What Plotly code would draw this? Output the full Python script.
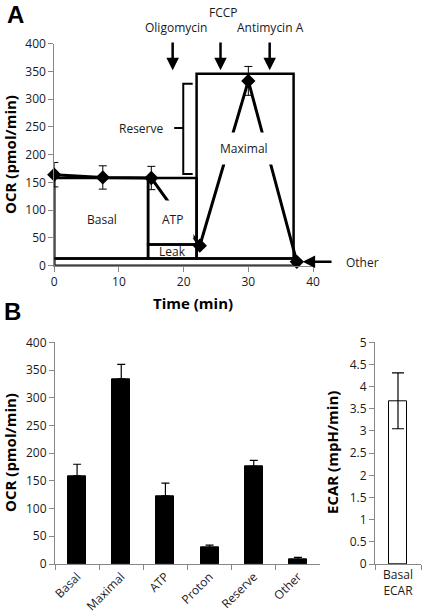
import plotly.graph_objects as go

# ---------------- Data ----------------
# Panel A: OCR time course
time_min = [0, 7.5, 15, 22.5, 30, 37.5]
ocr_time = [164, 159, 158, 36, 333, 7]
ocr_time_err = [22, 21, 21, 2, 26, 2]

# Schematic levels (pmol/min) and injection times (min)
basal_level = 158
leak_level = 38
other_level = 13
maximal_level = 346
t_start = 0
t_oligo = 14.5
t_fccp = 22
t_end = 37
reserve_top = 328
reserve_mid = 248
reserve_bottom = 165

drug_names = ["Oligomycin", "FCCP", "Antimycin A"]
drug_arrow_times = [18.3, 25.7, 33.3]

# Panel B: parameters
param_names = ["Basal", "Maximal", "ATP", "Proton", "Reserve", "Other"]
param_values = [159, 334, 123, 29.5, 176, 8]
param_errors = [21, 26, 23, 4.5, 11, 4]

ecar_names = ["Basal ECAR"]
ecar_values = [3.68]
ecar_errors = [0.63]

# ---------------- Styling ----------------
FONT = "Open Sans"
TICK = dict(family=FONT, size=12, color="#1a1a1a")
TITLE = dict(family=FONT, size=15, color="black")
AXC = "#878787"
LW = 2.5

fig = go.Figure()

# Panel A trace
fig.add_trace(go.Scatter(
    x=time_min, y=ocr_time, mode="lines+markers",
    line=dict(color="black", width=3),
    marker=dict(symbol="diamond", size=11, color="black"),
    error_y=dict(type="data", array=ocr_time_err, color="black", thickness=1, width=4),
    xaxis="x", yaxis="y", cliponaxis=False, showlegend=False,
))

# Panel B bars
fig.add_trace(go.Bar(
    x=param_names, y=param_values, width=0.41,
    marker=dict(color="black", line=dict(color="black", width=1)),
    error_y=dict(type="data", array=param_errors, arrayminus=[0]*len(param_errors),
                 symmetric=False, color="black", thickness=1.2, width=4),
    xaxis="x2", yaxis="y2", showlegend=False,
))
fig.add_trace(go.Bar(
    x=ecar_names, y=ecar_values, width=0.4,
    marker=dict(color="white", line=dict(color="black", width=1)),
    error_y=dict(type="data", array=ecar_errors, color="black", thickness=1.2, width=6),
    xaxis="x3", yaxis="y3", showlegend=False,
))

# Schematic boxes in panel A
def rect(x0, x1, y0, y1):
    return dict(type="rect", xref="x", yref="y", x0=x0, x1=x1, y0=y0, y1=y1,
                line=dict(color="black", width=LW), fillcolor="rgba(0,0,0,0)", layer="above")

shapes = [
    rect(t_start, t_oligo, other_level, basal_level),
    rect(t_oligo, t_fccp, leak_level, basal_level),
    rect(t_oligo, t_fccp, other_level, leak_level),
    rect(t_fccp, t_end, other_level, maximal_level),
    rect(t_start, t_end, 0, other_level),
]
br_x = t_fccp - 2.06
shapes.append(dict(
    type="path", xref="x", yref="y",
    path=(f"M {t_fccp-0.6},{reserve_top} L {br_x},{reserve_top} L {br_x},{reserve_bottom} "
          f"L {t_fccp-0.6},{reserve_bottom} M {br_x},{reserve_mid} L {br_x-1.4},{reserve_mid}"),
    line=dict(color="black", width=2), layer="above",
))

annotations = []
C = dict(xanchor="center", yanchor="middle", showarrow=False)
# panel letters
annotations.append(dict(text="<b>A</b>", x=15/422, y=1-15/616, xref="paper", yref="paper",
                        font=dict(family="Liberation Sans", size=24, color="black"), **C))
annotations.append(dict(text="<b>B</b>", x=12/422, y=1-311/616, xref="paper", yref="paper",
                        font=dict(family="Liberation Sans", size=24, color="black"), **C))

# Box labels
lab = dict(family=FONT, size=12, color="#1a1a1a")
annotations += [
    dict(text="Basal", x=7.3, y=84, xref="x", yref="y", font=lab, **C),
    dict(text="ATP", x=18.3, y=84, xref="x", yref="y", font=lab,
         bgcolor="white", borderpad=10, **C),
    dict(text="Leak", x=18.3, y=25, xref="x", yref="y", font=lab, **C),
    dict(text="Maximal", x=29.3, y=212, xref="x", yref="y", font=lab,
         bgcolor="white", borderpad=7, **C),
    dict(text="Reserve", x=13.5, y=reserve_mid, xref="x", yref="y", font=lab, **C),
]

# Drug arrows and labels
drug_label_x = [18.76, 26.2, 33.4]
drug_label_y = [1-27.3/616, 1-12.3/616, 1-27.3/616]
for name, t, lx, ly in zip(drug_names, drug_arrow_times, drug_label_x, drug_label_y):
    annotations.append(dict(text="", x=t, y=352, xref="x", yref="y", ax=t, ay=405,
                            axref="x", ayref="y", showarrow=True, arrowhead=2, arrowsize=1,
                            arrowwidth=2.5, arrowcolor="black"))
    annotations.append(dict(text=name, x=lx, y=ly, xref="x", yref="paper", font=lab, **C))

# "Other" arrow
annotations.append(dict(text="", x=38.4, y=7, xref="x", yref="y", ax=43.1, ay=7,
                        axref="x", ayref="y", showarrow=True, arrowhead=2, arrowsize=1,
                        arrowwidth=2.5, arrowcolor="black"))
annotations.append(dict(text="Other", x=362/422, y=1-262/616, xref="paper", yref="paper",
                        font=lab, **C))

# Axis titles
annotations += [
    dict(text="<b>Time (min)</b>", x=193/422, y=1-303/616, xref="paper", yref="paper",
         font=TITLE, **C),
    dict(text="<b>OCR (pmol/min)</b>", x=10/422, y=1-155/616, xref="paper", yref="paper",
         font=TITLE, textangle=-90, **C),
    dict(text="<b>OCR (pmol/min)</b>", x=10/422, y=1-453/616, xref="paper", yref="paper",
         font=TITLE, textangle=-90, **C),
    dict(text="<b>ECAR (mpH/min)</b>", x=332/422, y=1-453/616, xref="paper", yref="paper",
         font=TITLE, textangle=-90, **C),
]

axis_common = dict(showline=True, linecolor=AXC, linewidth=1, ticks="outside",
                   tickcolor=AXC, ticklen=5, showgrid=False, zeroline=False, tickfont=TICK,
                   automargin=False)

fig.update_layout(
    width=422, height=616, margin=dict(l=0, r=0, t=0, b=0, autoexpand=False),
    paper_bgcolor="white", plot_bgcolor="white",
    shapes=shapes, annotations=annotations, bargap=0,
    xaxis=dict(domain=[54.3/422, 313/422], range=[0, 40], tickvals=[0, 10, 20, 30, 40],
               anchor="y", **axis_common),
    yaxis=dict(domain=[1-265.7/616, 1-43.7/616], range=[0, 400], dtick=50,
               anchor="x", **axis_common),
    xaxis2=dict(domain=[55/422, 320/422], type="category", tickangle=-45,
                tickson="boundaries", anchor="y2", **axis_common),
    yaxis2=dict(domain=[1-564/616, 1-342.3/616], range=[0, 400], dtick=50,
                anchor="x2", **axis_common),
    xaxis3=dict(domain=[375/422, 421/422], type="category", tickson="boundaries",
                tickvals=ecar_names, ticktext=["Basal<br>ECAR"], anchor="y3", **axis_common),
    yaxis3=dict(domain=[1-564/616, 1-342.3/616], range=[0, 5], dtick=0.5,
                anchor="x3", **axis_common),
)

fig.write_html("out.html", config={"displayModeBar": False},
               post_script="document.body.style.margin='0';document.body.style.overflow='hidden';")
